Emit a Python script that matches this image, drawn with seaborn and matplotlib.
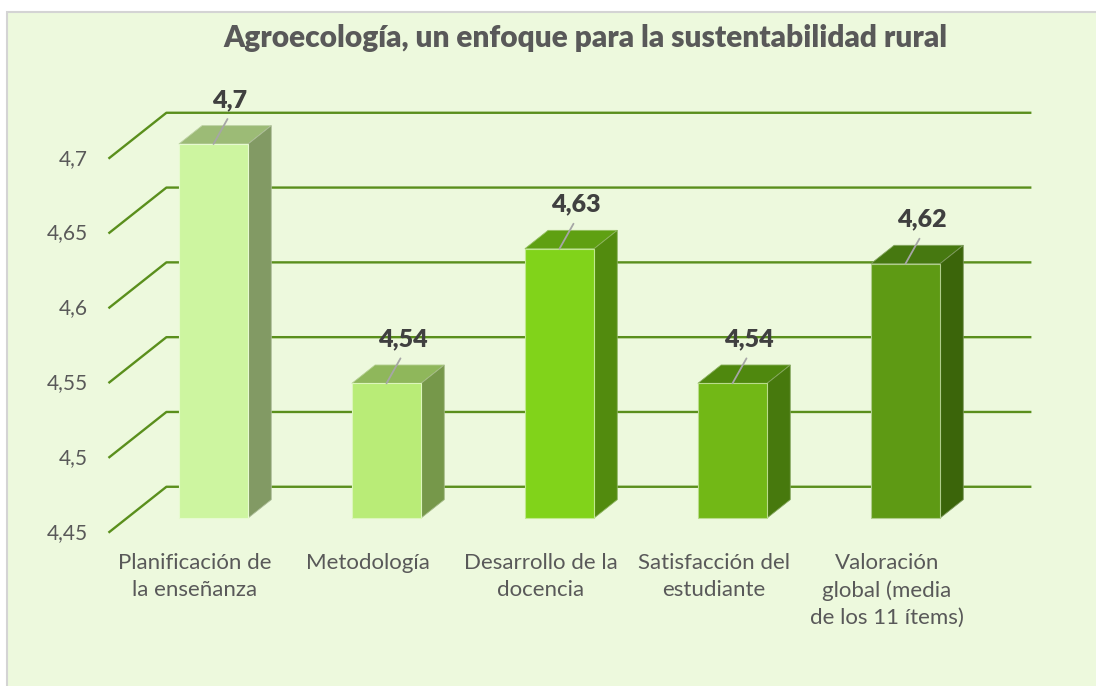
import numpy as np
import pandas as pd
import seaborn as sns
import matplotlib.pyplot as plt
from matplotlib.patches import Rectangle

# data
title = 'Agroecología, un enfoque para la sustentabilidad rural'
categories = ['Planificación de\nla enseñanza', 'Metodología',
              'Desarrollo de la\ndocencia', 'Satisfacción del\nestudiante',
              'Valoración\nglobal (media\nde los 11 ítems)']
values = [4.70, 4.54, 4.63, 4.54, 4.62]
yticks = [4.45, 4.50, 4.55, 4.60, 4.65, 4.70]

front_colors = ['#CDF5A0', '#B9EC77', '#81D31A', '#72B816', '#5E9A14']
top_colors = ['#9CBB76', '#8FB75B', '#5FA012', '#4F880E', '#467810']
side_colors = ['#829A64', '#76984A', '#528B0E', '#47790D', '#3B650A']

# geometry of the fake 3d
base = yticks[0]
ddx, ddy = 0.335, 0.0307      # full depth offset in data units
d0, d1 = 0.32, 0.72           # bar front / back depth
bw = 0.40
grid_col = '#5A8F1C'


def proj(x, v, d):
    return x + (d - d0) * ddx, v + (d - d0) * ddy


def fmt(v):
    return f'{v:g}'.replace('.', ',')


sns.set_theme(style='white')
plt.rcParams['font.family'] = ['Lato', 'DejaVu Sans']

fig = plt.figure(figsize=(10.96, 6.86), dpi=100)
fig.patch.set_facecolor('white')
fig.patches.append(Rectangle((7 / 1096, -0.01), 1.02, 1 - 12 / 686 + 0.01,
                             transform=fig.transFigure, facecolor='#EDF9DD',
                             edgecolor='#D4D4D4', linewidth=1.5, zorder=-5))

ax = fig.add_axes([0, 0, 1, 1])
ax.set_facecolor('none')

df = pd.DataFrame({'cat': categories, 'height': np.array(values) - base})
sns.barplot(data=df, x='cat', y='height', hue='cat', palette=front_colors,
            bottom=base, width=bw, saturation=1, legend=False, ax=ax,
            zorder=3)
for p, c in zip(ax.patches, front_colors):
    p.set_edgecolor(sns.blend_palette([c, 'white'], 3)[1])
    p.set_linewidth(0.8)

# grid: left diagonals + back wall lines
n = len(categories)
for t in yticks:
    x0, y0 = proj(-0.5, t, 0)
    x1, y1 = proj(-0.5, t, 1)
    x2, y2 = proj(n - 0.5, t, 1)
    ax.plot([x0, x1, x2], [y0, y1, y2], color=grid_col, lw=1.7, zorder=1,
            solid_capstyle='butt')
    ax.annotate(fmt(t), (x0, y0), xytext=(-21, 0), textcoords='offset pixels',
                ha='right', va='center', fontsize=15, color='#595959')

# top and side faces
for i, v in enumerate(values):
    l, r = i - bw / 2, i + bw / 2
    top = [proj(l, v, d0), proj(r, v, d0), proj(r, v, d1), proj(l, v, d1)]
    side = [proj(r, base, d0), proj(r, v, d0), proj(r, v, d1), proj(r, base, d1)]
    for poly, c in ((top, top_colors[i]), (side, side_colors[i])):
        xs, ys = zip(*poly)
        ax.fill(xs, ys, facecolor=c, edgecolor=sns.blend_palette([c, 'white'], 4)[1],
                lw=0.6, zorder=2)

    # data labels with leader line
    ax.annotate('', xy=(i, v), xytext=(14, 25), textcoords='offset pixels',
                arrowprops=dict(arrowstyle='-', color='#A6A6A6', lw=1.3,
                                shrinkA=0, shrinkB=0), zorder=4)
    ax.annotate(fmt(v), (i, v), xytext=(16, 44), textcoords='offset pixels',
                ha='center', va='center', fontsize=18, fontweight='heavy',
                color='#404040', zorder=4)

    # category labels
    cx, cy = proj(i, base, 0)
    ax.annotate(categories[i], (cx, cy), xytext=(0, -20), textcoords='offset pixels',
                ha='center', va='top', fontsize=16, color='#595959',
                linespacing=1.45)

ax.set_xlim((0 - 213.5) / 173, (1096 - 213.5) / 173)
ax.set_ylim(base - (686 - 518) / 1496, base + 518 / 1496)
ax.axis('off')

fig.text(585 / 1096, 1 - 38 / 686, title, ha='center', va='center',
         fontsize=21.5, fontweight='heavy', color='#595959')

fig.savefig('out.png', dpi=100)
